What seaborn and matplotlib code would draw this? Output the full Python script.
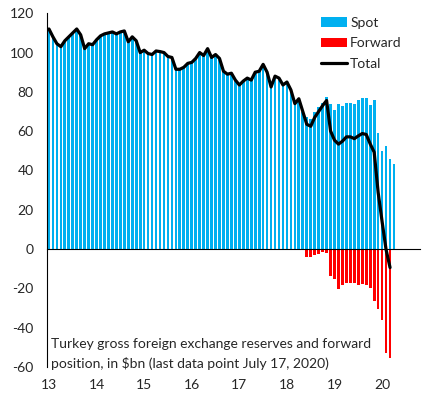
import numpy as np
import pandas as pd
import matplotlib
matplotlib.use("Agg")
import matplotlib.pyplot as plt
import seaborn as sns
from matplotlib.patches import Patch
from matplotlib.lines import Line2D

# ---- data (monthly, Jan 2013 onward; values in $bn) ----
spot = [112, 108, 104.5, 103, 106, 108, 110, 112, 109, 102, 104.5, 104,
        106.5, 108.5, 109.5, 110, 110.5, 109.5, 110.5, 111, 105.5, 108, 106, 100,
        101.2, 99.5, 99, 100.8, 100.5, 100, 98, 97.5, 91.5, 91.5, 92.5, 94.5,
        95, 97, 100, 98.5, 102, 97.5, 99, 97, 90.5, 89, 89.5, 86,
        83.5, 85.5, 87, 86, 90, 90.5, 94, 90, 82.5, 88, 87, 83.5,
        85, 81, 74, 76.5, 70, 67.4, 66.4, 69.9, 72.5, 74.5, 77.5, 73.7,
        70.7, 73.7, 73, 74.2, 74.2, 73.7, 76.1, 76.8, 76.8, 73.2, 75.7, 59.1,
        50, 52.4, 45.8, 43.2]
forward_start = 65
forward = [-3.9, -3.9, -2.9, -2.5, -1.5, -1.9, -13.6, -15.3, -20.3, -18.1, -17.1,
           -17.1, -17.5, -18.5, -18, -18.5, -19.7, -26.4, -30.3, -36.1, -52.7, -55.2]
total = [112, 108, 104.5, 103, 106, 108, 110, 112, 109, 102, 104.5, 104,
         106.5, 108.5, 109.5, 110, 110.5, 109.5, 110.5, 111, 105.5, 108, 106, 100,
         101.2, 99.5, 99, 100.8, 100.5, 100, 98, 97.5, 91.5, 91.5, 92.5, 94.5,
         95, 97, 100, 98.5, 102, 97.5, 99, 97, 90.5, 89, 89.5, 86,
         83.5, 85.5, 87, 86, 90, 90.5, 94, 90, 82.5, 88, 87, 83.5,
         85, 81, 74, 76.5, 70, 63.5, 62.5, 67, 70, 73, 75.6, 60.1,
         55.4, 53.4, 54.9, 57.1, 57.1, 56.2, 57.6, 58.8, 58.3, 53.5, 49.3, 28.8,
         13.9, -0.3, -9.4]
year_labels = ["13", "14", "15", "16", "17", "18", "19", "20"]
y_ticks = [-60, -40, -20, 0, 20, 40, 60, 80, 100, 120]

spot_df = pd.DataFrame({"m": np.arange(len(spot)), "v": spot})
fwd_df = pd.DataFrame({"m": np.arange(forward_start, forward_start + len(forward)), "v": forward})
tot_df = pd.DataFrame({"m": np.arange(len(total)), "v": total})

sns.set_style("white")
plt.rcParams["font.family"] = ["Lato", "DejaVu Sans"]
FS = 10

BLUE = "#00B0F0"
RED = "#FF0000"

fig = plt.figure(figsize=(4.31, 3.97), dpi=100)
ax = fig.add_axes([0.109, 0.0756, 0.865, 0.891])

sns.barplot(data=spot_df, x="m", y="v", native_scale=True, color=BLUE, saturation=1,
            width=0.68, errorbar=None, linewidth=0, ax=ax)
sns.barplot(data=fwd_df, x="m", y="v", native_scale=True, color=RED, saturation=1,
            width=0.68, errorbar=None, linewidth=0, ax=ax)
sns.lineplot(data=tot_df, x="m", y="v", color="black", linewidth=2.3, ax=ax,
             solid_joinstyle="round", solid_capstyle="round", zorder=5)

ax.set_xlim(-0.5, 93.5)
ax.set_ylim(-60, 120)
ax.set_xlabel("")
ax.set_ylabel("")

for s in ["top", "right"]:
    ax.spines[s].set_visible(False)
ax.spines["left"].set_color("black")
ax.spines["left"].set_linewidth(0.8)
ax.spines["bottom"].set_position(("data", 0))
ax.spines["bottom"].set_color("black")
ax.spines["bottom"].set_linewidth(0.8)
ax.spines["bottom"].set_zorder(6)

year_pos = [-0.5 + 12 * k for k in range(len(year_labels))]
ax.set_xticks(year_pos)
ax.set_xticklabels([])
ax.set_yticks(y_ticks)
ax.set_yticklabels([str(t) for t in y_ticks], fontsize=FS)
ax.tick_params(axis="both", direction="out", length=3.6, width=0.8, color="black")
ax.tick_params(axis="y", pad=6)

for pos, lab in zip(year_pos, year_labels):
    ax.text(pos + 0.5, -0.05, lab, transform=ax.get_xaxis_transform(),
            ha="center", va="center", fontsize=FS)

ax.text(0.5, -48.3, "Turkey gross foreign exchange reserves and forward",
        ha="left", va="center", fontsize=FS)
ax.text(0.5, -58.0, "position, in $bn (last data point July 17, 2020)",
        ha="left", va="center", fontsize=FS)

handles = [Patch(facecolor=BLUE, edgecolor="none"),
           Patch(facecolor=RED, edgecolor="none"),
           Line2D([0], [0], color="black", linewidth=2.3)]
fig.legend(handles, ["Spot", "Forward", "Total"], loc="upper left",
           bbox_to_anchor=(321 / 431, 1 - 17 / 397), frameon=False, fontsize=FS,
           handlelength=1.9, handletextpad=0.2, labelspacing=0.6,
           borderpad=0, borderaxespad=0)

fig.savefig("out.png", dpi=100)
